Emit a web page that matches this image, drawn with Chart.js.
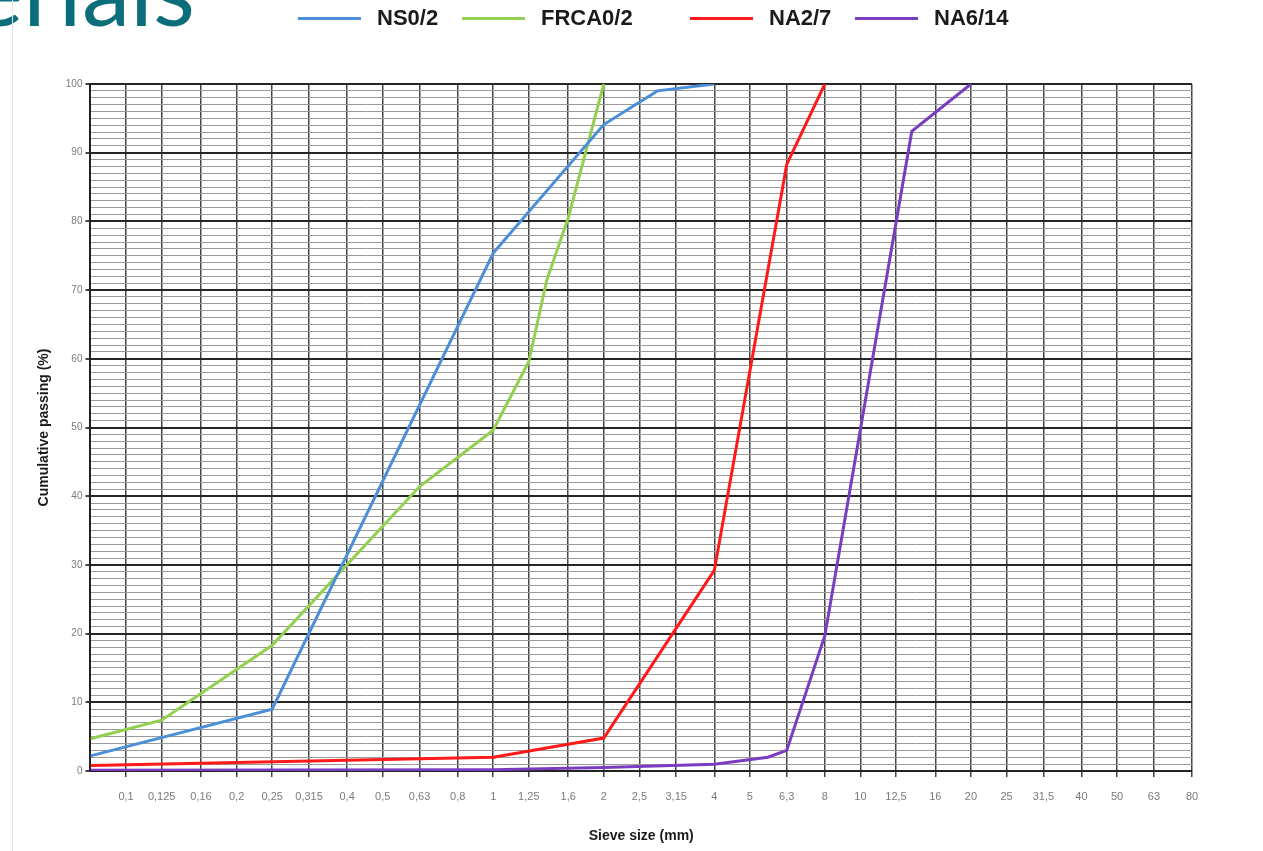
<!DOCTYPE html>
<html>
<head>
<meta charset="utf-8">
<title>Sieve curves</title>
<script src="https://cdn.jsdelivr.net/npm/chart.js@4.4.1/dist/chart.umd.min.js"></script>
<style>
  html, body { margin:0; padding:0; background:#fff; overflow:hidden; }
  #wrap { position:relative; width:1263px; height:851px; overflow:hidden; }
  #slideTitle { position:absolute; right:1068px; top:-60px; font-family:Lato, "Noto Sans", sans-serif; font-size:97px; line-height:97px; color:#0b6e7a; white-space:nowrap; z-index:2; }
  #edge { position:absolute; left:12px; top:0; width:1px; height:851px; background:#e6e6e6; z-index:2; }
  #legend { position:absolute; left:0; top:0; width:1263px; height:40px; z-index:2; }
  .item { position:absolute; top:6px; height:24px; display:flex; align-items:center; font:bold 22px "Liberation Sans", Arial, sans-serif; color:#1a1a1a; white-space:nowrap; }
  .swatch { width:63px; height:3px; margin-right:16px; }
  canvas { position:absolute; left:0; top:0; }
</style>
</head>
<body>
<div id="wrap">
  <div id="slideTitle">Materials</div>
  <div id="edge"></div>
  <div id="legend"></div>
  <canvas id="chart" width="1263" height="851"></canvas>
</div>
<script>
// sieve openings shown on the x axis (mm)
var sieveSizes = [0.1,0.125,0.16,0.2,0.25,0.315,0.4,0.5,0.63,0.8,1,1.25,1.6,2,2.5,3.15,4,5,6.3,8,10,12.5,16,20,25,31.5,40,50,63,80];

var seriesNames = ['NS0/2','FRCA0/2','NA2/7','NA6/14'];
var seriesColors = ['#4a8fd8','#92d050','#ff1a1a','#7a3dc2'];

// cumulative passing (%)
var ns02Size = [0.08, 0.25, 1, 2, 2.8, 4];
var ns02Pass = [2.2, 9, 75.4, 94.1, 99, 100];

var frca02Size = [0.08, 0.125, 0.25, 0.63, 1, 1.25, 1.4, 1.6, 2];
var frca02Pass = [4.7, 7.4, 18.3, 41.4, 49.6, 59.6, 71.5, 80.5, 100];

var na27Size = [0.08, 1, 2, 4, 6.3, 8];
var na27Pass = [0.8, 2.0, 4.8, 29.2, 88.3, 100];

var na614Size = [0.08, 1, 2, 4, 5.6, 6.3, 8, 13.8, 20];
var na614Pass = [0.1, 0.2, 0.5, 1.0, 2.0, 3.0, 19.7, 93.1, 100];

// legend item positions (px from left)
var legendLeft = [298, 462, 690, 855];

var sizes = [ns02Size, frca02Size, na27Size, na614Size];
var passes = [ns02Pass, frca02Pass, na27Pass, na614Pass];

var datasets = [];
for (var i = 0; i < seriesNames.length; i++) {
    var pts = [];
    for (var j = 0; j < sizes[i].length; j++) {
        pts.push({x: sizes[i][j], y: passes[i][j]});
    }
    datasets.push({
        label: seriesNames[i],
        data: pts,
        borderColor: seriesColors[i],
        backgroundColor: seriesColors[i],
        borderWidth: 3,
        pointRadius: 0,
        tension: 0,
        fill: false
    });
}

var legend = document.getElementById('legend');
for (var k = 0; k < seriesNames.length; k++) {
    var it = document.createElement('div');
    it.className = 'item';
    it.style.left = legendLeft[k] + 'px';
    it.innerHTML = '<span class="swatch" style="background:' + seriesColors[k] + '"></span>' + seriesNames[k];
    legend.appendChild(it);
}

var tickFont = {family:'"Liberation Sans", Arial, sans-serif', size:10};
var xTickFont = {family:'"Liberation Sans", Arial, sans-serif', size:11};
var titleFont = {family:'"Liberation Sans", Arial, sans-serif', size:14, weight:'bold'};

function isMajor(c) {
    return c.tick && Math.round(c.tick.value) % 10 === 0;
}

new Chart(document.getElementById('chart'), {
    type: 'line',
    data: {datasets: datasets},
    options: {
        responsive: false,
        animation: false,
        layout: {padding: {top: 84, left: 36, right: 71, bottom: 6}},
        plugins: {
            legend: {display: false},
            tooltip: {enabled: false}
        },
        scales: {
            x: {
                type: 'logarithmic',
                min: 0.08,
                max: 80,
                afterBuildTicks: function(axis) {
                    axis.ticks = sieveSizes.map(function(v) { return {value: v}; });
                },
                ticks: {
                    autoSkip: false,
                    maxRotation: 0,
                    padding: 13,
                    color: '#7a7a7a',
                    font: xTickFont,
                    callback: function(v) { return String(v).replace('.', ','); }
                },
                grid: {color: '#444', lineWidth: 1.5, tickLength: 6, tickColor: '#444'},
                border: {color: '#222', width: 2},
                title: {display: true, text: 'Sieve size (mm)', color: '#1a1a1a', font: titleFont, padding: {top: 12, bottom: 0}}
            },
            y: {
                min: 0,
                max: 100,
                ticks: {
                    stepSize: 1,
                    maxTicksLimit: 101,
                    autoSkip: false,
                    padding: 3,
                    color: '#7a7a7a',
                    font: tickFont,
                    callback: function(v) { return v % 10 === 0 ? v : ''; }
                },
                grid: {
                    color: function(c) { return isMajor(c) ? '#262626' : '#9a9a9a'; },
                    lineWidth: function(c) { return isMajor(c) ? 2 : 1; },
                    tickLength: 5,
                    tickColor: function(c) { return isMajor(c) ? '#444' : 'rgba(0,0,0,0)'; }
                },
                border: {color: '#222', width: 2},
                title: {display: true, text: 'Cumulative passing (%)', color: '#1a1a1a', font: titleFont, padding: {top: 0, bottom: 10}}
            }
        }
    }
});
</script>
</body>
</html>
